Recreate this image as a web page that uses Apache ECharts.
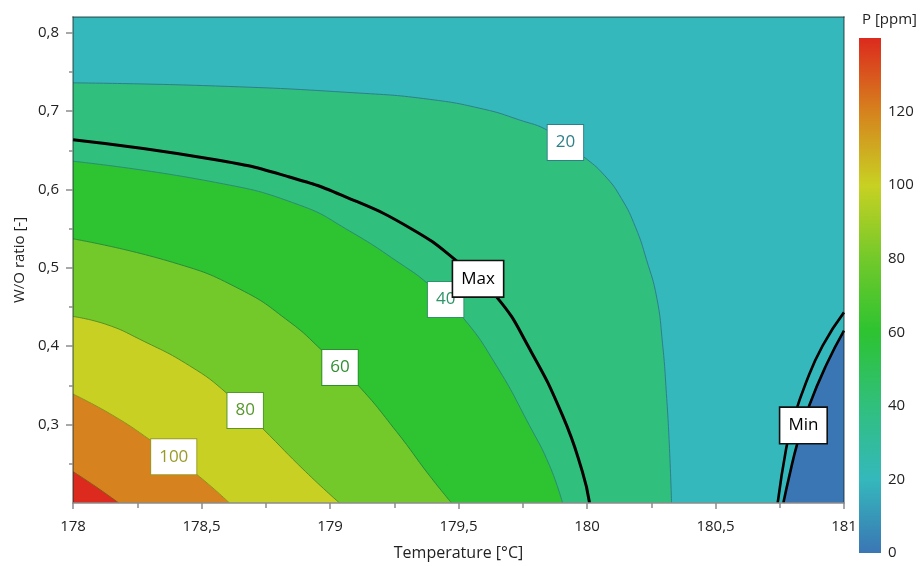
<!DOCTYPE html>
<html>
<head>
<meta charset="utf-8">
<script src="https://cdn.jsdelivr.net/npm/echarts@6/dist/echarts.min.js"></script>
<style>
  html, body { margin: 0; padding: 0; background: #ffffff; }
  #chart { width: 921px; height: 566px; }
</style>
</head>
<body>
<div id="chart"></div>
<script>
// P [ppm] levels and the fill colour used for the band that ends at each level
const levels = [0, 20, 40, 60, 80, 100, 120, 140];
const levelColors = ['#3a76b4', '#35b8bc', '#31bf7d', '#2dc331', '#73c92a', '#c8d123', '#d6821e', '#dc2a1e'];

// Iso-lines of P as [temperature °C, W/O ratio]
const iso20  = [[178, 0.736], [178.555, 0.732], [179.111, 0.723], [179.387, 0.715], [179.597, 0.7025],
                [179.734, 0.689], [179.854, 0.674], [179.986, 0.642], [180.068, 0.618], [180.134, 0.5885],
                [180.189, 0.5516], [180.231, 0.511], [180.271, 0.4627], [180.294, 0.403], [180.309, 0.3394],
                [180.321, 0.2695], [180.329, 0.2]];
const iso40  = [[178, 0.636], [178.555, 0.609], [178.882, 0.580], [179.076, 0.547], [179.271, 0.506],
                [179.387, 0.478], [179.516, 0.437], [179.648, 0.375], [179.776, 0.299], [179.854, 0.248],
                [179.905, 0.2]];
const iso60  = [[178, 0.537], [178.388, 0.507], [178.648, 0.473], [178.843, 0.431], [178.971, 0.394],
                [179.107, 0.351], [179.259, 0.291], [179.387, 0.235], [179.473, 0.2]];
const iso80  = [[178, 0.438], [178.128, 0.428], [178.259, 0.409], [178.454, 0.375], [178.602, 0.339],
                [178.738, 0.295], [178.905, 0.240], [179.037, 0.2]];
const iso100 = [[178, 0.339], [178.154, 0.312], [178.302, 0.280], [178.481, 0.2365], [178.609, 0.2]];
const iso120 = [[178, 0.240], [178.088, 0.221], [178.178, 0.2]];

// Ridge of maximum P and the two branches of the minimum valley
const maxCurve = [[178, 0.6635], [178.555, 0.638], [178.831, 0.617], [179.065, 0.590], [179.321, 0.549],
                  [179.496, 0.508], [179.648, 0.463], [179.776, 0.397], [179.905, 0.3115], [179.982, 0.240],
                  [180.01, 0.2]];
const minOuter = [[180.742, 0.2], [180.775, 0.2695], [180.80, 0.3034], [180.853, 0.3543], [180.917, 0.4008], [181, 0.4432]];
const minInner = [[180.764, 0.2], [180.788, 0.2356], [180.82, 0.278], [180.865, 0.3245], [180.93, 0.3754], [181, 0.4198]];

// In-line level labels
const labelLevels = [20, 40, 60, 80, 100];
const labelTemps  = [179.916, 179.45, 179.039, 178.67, 178.392];
const labelRatios = [0.66, 0.4595, 0.373, 0.318, 0.259];
const labelInk    = ['#2d8088', '#2f9468', '#2f8f30', '#55992c', '#9a9a28'];
const markNames   = ['Max', 'Min'];
const markTemps   = [179.576, 180.842];
const markRatios  = [0.486, 0.299];

// Axis ticks
const ratioMajor = [0.3, 0.4, 0.5, 0.6, 0.7, 0.8];
const ratioMinor = [0.25, 0.35, 0.45, 0.55, 0.65, 0.75];

const lineInk = { 20: '#2d7f8c', 40: '#2b8c74', 60: '#2a8a3c', 80: '#5a8f26', 100: '#8e9420', 120: '#8a561a' };
const FONT = 'Open Sans';
const decimalComma = v => String(v).replace('.', ',');
const colorAt = lvl => levelColors[levels.indexOf(lvl)];
const SMOOTH = 0.5;

// Fill the region below/left of an iso-line with the colour of the next band up
function band(data, lvl) {
  const upper = levels[levels.indexOf(lvl) + 1];
  return {
    type: 'line', data: data, xAxisIndex: 0, yAxisIndex: 0,
    smooth: SMOOTH, symbol: 'none', silent: true,
    lineStyle: { color: lineInk[lvl], width: 1 },
    areaStyle: { color: colorAt(upper), opacity: 1, origin: 'start' },
    z: 2
  };
}

const isoSets = [[iso20, 20], [iso40, 40], [iso60, 60], [iso80, 80], [iso100, 100], [iso120, 120]];
const series = isoSets.map(s => band(s[0], s[1]));

series.push({
  type: 'line', data: minInner, xAxisIndex: 0, yAxisIndex: 0,
  smooth: SMOOTH, symbol: 'none', silent: true,
  lineStyle: { color: '#000', width: 2.6 },
  areaStyle: { color: colorAt(0), opacity: 1, origin: 'start' }, z: 3
});
series.push({
  type: 'line', data: minOuter, xAxisIndex: 0, yAxisIndex: 0,
  smooth: SMOOTH, symbol: 'none', silent: true,
  lineStyle: { color: '#000', width: 2.6 }, z: 3
});
series.push({
  type: 'line', data: maxCurve, xAxisIndex: 0, yAxisIndex: 0,
  smooth: SMOOTH, symbol: 'none', silent: true,
  lineStyle: { color: '#000', width: 3 }, z: 3
});

const boxLabel = {
  show: true, position: 'inside', fontFamily: FONT, fontSize: 17, lineHeight: 21,
  backgroundColor: '#ffffff', borderWidth: 1, padding: [7, 8, 7, 8], opacity: 1
};

series.push({
  type: 'scatter', xAxisIndex: 0, yAxisIndex: 0, symbolSize: 0, silent: true, z: 10,
  itemStyle: { color: 'transparent', opacity: 1 },
  data: labelLevels.map((lvl, i) => ({
    value: [labelTemps[i], labelRatios[i], String(lvl)],
    label: Object.assign({}, boxLabel, { color: labelInk[i], borderColor: labelInk[i] })
  })),
  label: { show: true, formatter: p => p.value[2] }
});
series.push({
  type: 'scatter', xAxisIndex: 0, yAxisIndex: 0, symbolSize: 0, silent: true, z: 11,
  itemStyle: { color: 'transparent', opacity: 1 },
  data: markNames.map((n, i) => ({
    value: [markTemps[i], markRatios[i], n],
    label: Object.assign({}, boxLabel, { color: '#000', borderColor: '#111', borderWidth: 1.6 })
  })),
  label: { show: true, formatter: p => p.value[2] }
});

// Colour scale bar
series.push({
  type: 'bar', xAxisIndex: 2, yAxisIndex: 3, data: [levels[levels.length - 1]],
  barWidth: '100%', silent: true,
  itemStyle: {
    color: {
      type: 'linear', x: 0, y: 1, x2: 0, y2: 0,
      colorStops: levels.map((l, i) => ({ offset: l / levels[levels.length - 1], color: levelColors[i] }))
    }
  }
});

const tickGrey = '#8c8c8c';
const edge = 'rgba(20,40,40,0.55)';

const option = {
  animation: false,
  textStyle: { fontFamily: FONT },
  title: {
    text: 'P [ppm]', left: 857, top: 7,
    textStyle: { fontFamily: FONT, fontSize: 15, fontWeight: 'normal', color: '#222' }
  },
  grid: [
    { left: 73, right: 77, top: 17, bottom: 61, show: true, backgroundColor: colorAt(20), borderWidth: 0 },
    { left: 859, right: 40, top: 38, bottom: 13 }
  ],
  xAxis: [
    {
      type: 'value', gridIndex: 0, min: 178, max: 181, interval: 0.5, z: 5,
      name: 'Temperature [°C]', nameLocation: 'middle', nameGap: 42,
      nameTextStyle: { fontFamily: FONT, fontSize: 16, color: '#222' },
      axisLine: { show: true, onZero: false, lineStyle: { color: tickGrey, width: 1.5 } },
      axisTick: { show: true, length: 6, lineStyle: { color: tickGrey, width: 1.5 } },
      minorTick: { show: true, splitNumber: 2, length: 5, lineStyle: { color: tickGrey, width: 1.5 } },
      axisLabel: { margin: 16, fontSize: 15, color: '#222', formatter: decimalComma },
      splitLine: { show: false }
    },
    {
      type: 'value', gridIndex: 0, min: 178, max: 181, position: 'top', z: 5,
      axisLine: { show: true, onZero: false, lineStyle: { color: edge, width: 1.5 } },
      axisTick: { show: false }, axisLabel: { show: false }, splitLine: { show: false }
    },
    {
      type: 'category', gridIndex: 1, data: [''], show: false
    }
  ],
  yAxis: [
    {
      type: 'value', gridIndex: 0, min: 0.2, max: 0.82, z: 5,
      name: 'W/O ratio [-]', nameLocation: 'middle', nameGap: 44,
      nameTextStyle: { fontFamily: FONT, fontSize: 15, color: '#222' },
      axisLine: { show: true, onZero: false, lineStyle: { color: edge, width: 1.5 } },
      axisTick: { show: true, length: 7, customValues: ratioMajor, lineStyle: { color: tickGrey, width: 1.5 } },
      axisLabel: { margin: 14, fontSize: 15, color: '#222', customValues: ratioMajor,
                   formatter: v => v.toFixed(1).replace('.', ',') },
      splitLine: { show: false }
    },
    {
      type: 'value', gridIndex: 0, min: 0.2, max: 0.82, position: 'left', z: 5,
      axisLine: { show: false },
      axisTick: { show: true, length: 4, customValues: ratioMinor, lineStyle: { color: tickGrey, width: 1.5 } },
      axisLabel: { show: false }, splitLine: { show: false }
    },
    {
      type: 'value', gridIndex: 0, min: 0.2, max: 0.82, position: 'right', z: 5,
      axisLine: { show: true, onZero: false, lineStyle: { color: edge, width: 1.5 } },
      axisTick: { show: false }, axisLabel: { show: false }, splitLine: { show: false }
    },
    {
      type: 'value', gridIndex: 1, min: 0, max: 140, interval: 20, position: 'right',
      axisLine: { show: false }, axisTick: { show: false }, splitLine: { show: false },
      axisLabel: { margin: 7, fontSize: 15, color: '#222', showMaxLabel: false }
    }
  ],
  series: series
};

const chart = echarts.init(document.getElementById('chart'), null, { renderer: 'canvas' });
chart.setOption(option);
</script>
</body>
</html>
